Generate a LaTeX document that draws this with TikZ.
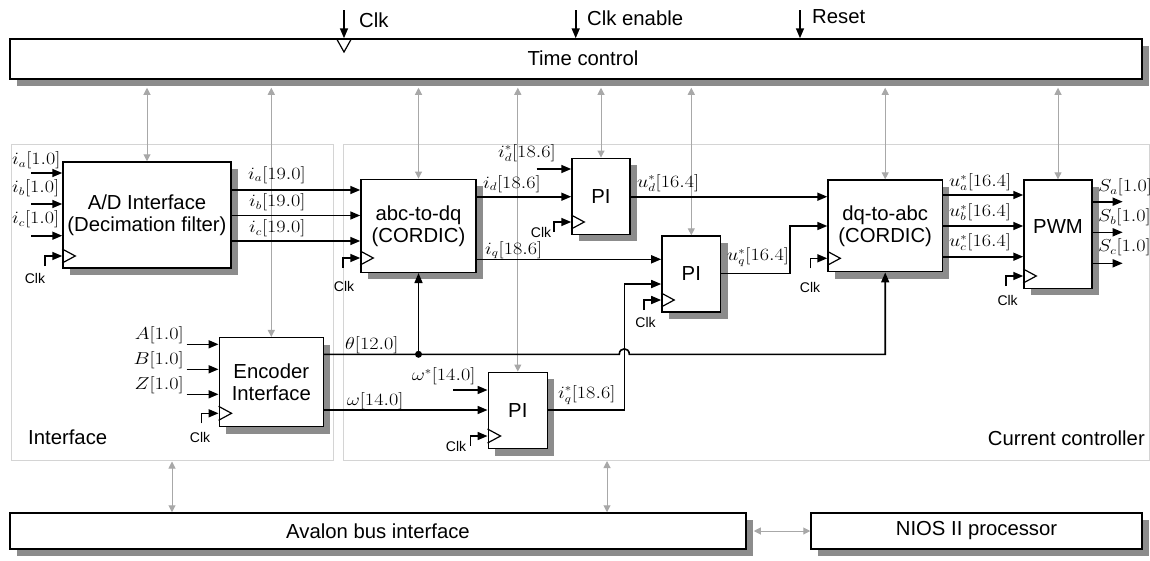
\documentclass[tikz,border=0pt]{standalone}
\usepackage[no-math]{fontspec}
\usepackage{graphicx}
\setmainfont{Liberation Sans}
\usetikzlibrary{arrows.meta,shadows,calc}
\definecolor{shd}{HTML}{8C8C8C}
\definecolor{garr}{HTML}{A8A8A8}
\definecolor{grp}{HTML}{D4D4D4}
\newcommand\fbig{\fontsize{20.3}{22}\selectfont}
\newcommand\fclk{\fontsize{14}{15}\selectfont}
\newcommand\fmth{\fontsize{16}{18}\selectfont}
\newcommand\sx[1]{\scalebox{1.17}[1]{$#1$}}
\tikzset{
  blk/.style={draw=black, line width=1.5pt, fill=white, inner sep=0pt, align=center,
    font=\fbig, drop shadow={shadow xshift=7pt, shadow yshift=-7pt, fill=shd, opacity=1}},
  grpbox/.style={draw=grp, line width=1pt, inner sep=0pt},
  sigl/.style={line width=1.6pt},
  sig/.style={sigl, -{Triangle[length=10pt,width=8pt]}},
  gar/.style={draw=garr, line width=1pt, {Triangle[length=7pt,width=7pt]}-{Triangle[length=7pt,width=7pt]}},
  lab/.style={inner sep=0pt},
  ml/.style={lab, font=\fmth, anchor=base west},
  mr/.style={lab, font=\fmth, anchor=base east},
  ck/.style={lab, font=\fclk},
  clkin/.pic={
    \draw[sig] (-17,10) |- (0,0);
    \draw[line width=1.2pt] (0,-7) -- (13,0) -- (0,7);
  }
}
\begin{document}
\begin{tikzpicture}[x=1pt,y=-1pt]
\useasboundingbox (0,0) rectangle (1150,560);
\fill[white] (0,0) rectangle (1150,560);

% group boxes
\node[grpbox, minimum width=322pt, minimum height=316pt] (gif) at (172,302) {};
\node[grpbox, minimum width=806pt, minimum height=316pt] (gcc) at (746,302) {};
\node[lab, font=\fbig, anchor=base west] (lgif) at (28,444) {Interface};
\node[lab, font=\fbig, anchor=base east] (lgcc) at (1145,445) {Current controller};

% time control
\node[blk, minimum width=1132pt, minimum height=40pt] (timec) at (576,59) {};
\node[lab, font=\fbig] (ltc) at (583,58) {Time control};
\coordinate (tcs) at ([yshift=-8pt]timec.south);

% blocks
\node[blk, minimum width=168pt, minimum height=106pt] (ad) at (147,215) {A/D Interface\\(Decimation filter)};
\node[blk, minimum width=104pt, minimum height=89pt] (enc) at (271.3,382.2) {Encoder\\Interface};
\node[blk, minimum width=115pt, minimum height=93pt] (abc) at (418.5,225.8) {abc-to-dq\\(CORDIC)};
\node[blk, minimum width=58pt, minimum height=76pt] (pi1) at (601,196.3) {PI};
\node[blk, minimum width=58.7pt, minimum height=76pt] (pi2) at (691.3,274) {PI};
\node[blk, minimum width=59pt, minimum height=76.4pt] (pi3) at (517.8,410.5) {PI};
\node[blk, minimum width=114.3pt, minimum height=91.7pt] (dq) at (885.2,225.85) {dq-to-abc\\(CORDIC)};
\node[blk, minimum width=68pt, minimum height=108.3pt] (pwm) at (1058,234.2) {};
\node[lab, font=\fbig] (lpwm) at (1058,227) {PWM};
\node[blk, minimum width=736pt, minimum height=36pt] (avalon) at (378,531) {Avalon bus interface};
\node[blk, minimum width=331pt, minimum height=36pt] (nios) at (976.5,531) {NIOS II processor};

% gray bus arrows
\foreach \n in {ad,enc,abc,pi1,pi2,pi3,dq,pwm}
  \draw[gar] (\n.north |- tcs) -- (\n.north);
\draw[gar] ([yshift=-1pt]gif.south) -- (gif.south |- avalon.north);
\coordinate (ccb) at (607,461);
\draw[gar] (ccb) -- (ccb |- avalon.north);
\draw[gar] ([xshift=7pt]avalon.east) -- (nios.west);

% top inputs
\coordinate (tclk) at (344,10);
\coordinate (tcen) at (575.7,10);
\coordinate (trst) at (800,10);
\draw[sig] (tclk) -- (tclk |- timec.north);
\draw[sig] (tcen) -- (tcen |- timec.north);
\draw[sig] (trst) -- (trst |- timec.north);
\draw[line width=1.2pt] (337,39.5) -- (344,52) -- (351,39.5);
\node[lab, font=\fbig, anchor=west] (ltclk) at (359,20) {Clk};
\node[lab, font=\fbig, anchor=west] (ltcen) at (587,18) {Clk enable};
\node[lab, font=\fbig, anchor=west] (ltrst) at (812,17) {Reset};

% A/D inputs
\draw[sig] (31,173) -- (ad.west |- 0,173);
\draw[sig] (31,204) -- (ad.west |- 0,204);
\draw[sig] (31,235.7) -- (ad.west |- 0,235.7);
\node[ml] (lia) at (12,164.5) {\sx{i_a[1.0]}};
\node[ml] (lib) at (12,192.5) {\sx{i_b[1.0]}};
\node[ml] (lic) at (12,223.5) {\sx{i_c[1.0]}};
\pic (cad) at (ad.west |- 0,256) {clkin};
\node[ck] (lcad) at (35,278) {Clk};

% A/D outputs
\draw[sig] (ad.east |- 0,190) -- (abc.west |- 0,190);
\draw[sig] (ad.east |- 0,215.5) -- (abc.west |- 0,215.5);
\draw[sig] (ad.east |- 0,241) -- (abc.west |- 0,241);
\node[ml] (loa) at (248,179) {\sx{i_a[19.0]}};
\node[ml] (lob) at (249,206.5) {\sx{i_b[19.0]}};
\node[ml] (loc) at (249,232.5) {\sx{i_c[19.0]}};

% abc-to-dq
\pic (cabc) at (abc.west |- 0,258) {clkin};
\node[ck] (lcabc) at (344,286) {Clk};
\draw[sig] (abc.east |- 0,196.7) -- (pi1.west |- 0,196.7);
\draw[sig] (abc.east |- 0,259.3) -- (pi2.west |- 0,259.3);
\node[ml] (lid) at (483,188) {\sx{i_d[18.6]}};
\node[ml] (liq) at (485,254) {\sx{i_q[18.6]}};

% PI (d)
\coordinate (idref) at (536.7,169);
\draw[sig] (idref) -- (pi1.west |- idref);
\node[ml] (lidr) at (498,157) {\sx{i_d^*[18.6]}};
\pic (cpi1) at (pi1.west |- 0,222) {clkin};
\node[ck] (lcpi1) at (541,232) {Clk};
\draw[sig] (pi1.east |- 0,196.7) -- (dq.west |- 0,196.7);
\node[ml] (lud) at (637,187) {\sx{u_d^*[16.4]}};

% PI (q)
\pic (cpi2) at (pi2.west |- 0,300) {clkin};
\node[ck] (lcpi2) at (645.5,322) {Clk};
\draw[sig] (pi2.east |- 0,273.3) -- (790,273.3) |- (dq.west |- 0,226);
\node[ml] (luq) at (727,260.5) {\sx{u_q^*[16.4]}};

% dq-to-abc
\pic (cdq) at (dq.west |- 0,258.3) {clkin};
\node[ck] (lcdq) at (810,287) {Clk};
\draw[sig] (dq.east |- 0,195) -- (pwm.west |- 0,195);
\draw[sig] (dq.east |- 0,226) -- (pwm.west |- 0,226);
\draw[sig] (dq.east |- 0,256.7) -- (pwm.west |- 0,256.7);
\node[ml] (lua) at (949,186.5) {\sx{u_a^*[16.4]}};
\node[ml] (lub) at (949,216.5) {\sx{u_b^*[16.4]}};
\node[ml] (luc) at (949,246.5) {\sx{u_c^*[16.4]}};

% PWM
\pic (cpwm) at (pwm.west |- 0,276) {clkin};
\node[ck] (lcpwm) at (1007.6,300) {Clk};
\draw[sig] (pwm.east |- 0,201.7) -- (1122.7,201.7);
\draw[sig] (pwm.east |- 0,232.3) -- (1122.7,232.3);
\draw[sig] (pwm.east |- 0,263.3) -- (1122.7,263.3);
\node[ml] (lsa) at (1098,191.5) {\sx{S_a[1.0]}};
\node[ml] (lsb) at (1098,221.5) {\sx{S_b[1.0]}};
\node[ml] (lsc) at (1098,251.5) {\sx{S_c[1.0]}};

% Encoder
\draw[sig] (186.7,344.3) -- (enc.west |- 0,344.3);
\draw[sig] (186.7,369.3) -- (enc.west |- 0,369.3);
\draw[sig] (186.7,394.3) -- (enc.west |- 0,394.3);
\node[mr] (lA) at (184,339.5) {\sx{A[1.0]}};
\node[mr] (lB) at (184,364.5) {\sx{B[1.0]}};
\node[mr] (lZ) at (184,389.5) {\sx{Z[1.0]}};
\pic (cenc) at (enc.west |- 0,413.3) {clkin};
\node[ck] (lcenc) at (200,437) {Clk};

% theta
\draw[sig] (enc.east |- 0,354.3) -- (619.3,354.3) .. controls (619.3,347) and (629.3,347) .. (629.3,354.3) -| (dq.south);
\node[circle, fill=black, inner sep=0pt, minimum size=7pt] (jn) at (abc.south |- 0,354.3) {};
\draw[sig] (jn) -- (abc.south);
\node[ml] (lth) at (345,349) {\sx{\theta[12.0]}};

% omega, PI speed
\draw[sig] (enc.east |- 0,410) -- (pi3.west |- 0,410);
\node[ml] (lom) at (346.7,405) {\sx{\omega[14.0]}};
\coordinate (omref) at (453,390);
\draw[sig] (omref) -- (pi3.west |- omref);
\node[ml] (lomr) at (411.7,380.5) {\sx{\omega^*[14.0]}};
\pic (cpi3) at (pi3.west |- 0,436) {clkin};
\node[ck] (lcpi3) at (456,446) {Clk};
\draw[sig] (pi3.east |- 0,410) -- (624.3,410) |- (pi2.west |- 0,284);
\node[ml] (liqr) at (558,398) {\sx{i_q^*[18.6]}};
\end{tikzpicture}
\end{document}
